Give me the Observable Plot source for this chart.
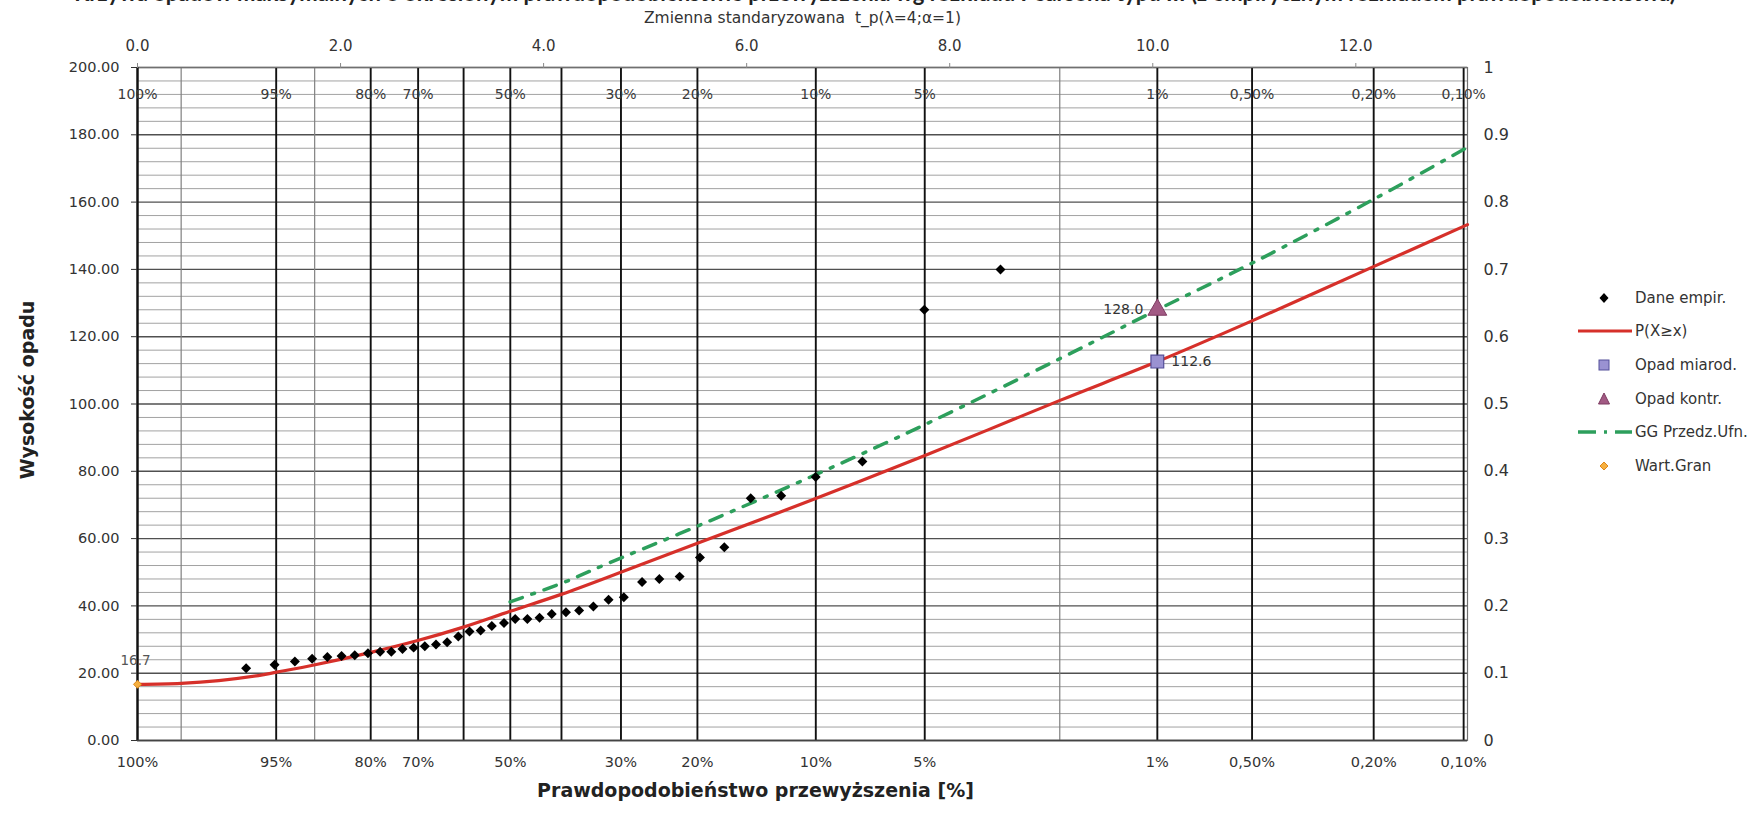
<!DOCTYPE html>
<html>
<head>
<meta charset="utf-8">
<script src="https://cdn.jsdelivr.net/npm/d3@7"></script>
<script src="https://cdn.jsdelivr.net/npm/@observablehq/plot@0.6"></script>
<style>
  html, body { margin: 0; padding: 0; background: #fff; }
  #wrap { position: relative; width: 1750px; height: 814px; overflow: hidden; font-family: "DejaVu Sans", sans-serif; }
  #title { position: absolute; left: 0; top: -18px; width: 1750px; text-align: center; white-space: nowrap;
           font: bold 22px Lato, sans-serif; line-height: 22px; color: #222; z-index: 2; }
  #ytitle { position: absolute; left: 27px; top: 390px; transform: translate(-50%, -50%) rotate(-90deg);
            white-space: nowrap; font: bold 19px "DejaVu Sans", sans-serif; color: #222; z-index: 2; }
  #legend { position: absolute; left: 1576px; top: 281px; font: 15px "DejaVu Sans", sans-serif; color: #333; z-index: 2; }
  .row { display: flex; align-items: center; height: 33.6px; }
  .row svg { width: 56px; height: 20px; flex: none; }
  .row span { margin-left: 3px; white-space: nowrap; }
</style>
</head>
<body>
<div id="wrap">
  <div id="title">Krzywa opadów maksymalnych o określonym prawdopodobieństwie przewyższenia wg rozkładu Pearsona typu III (z empirycznym rozkładem prawdopodobieństwa)</div>
  <div id="ytitle">Wysokość opadu</div>
  <div id="chart"></div>
  <div id="legend"></div>
</div>
<script>
// ---- data ----
// x is the standardised variable t_p(λ=4; α=1) (top axis); y = rainfall height [mm]
const topTicks = [0, 2, 4, 6, 8, 10, 12];
const heightTicks = [0, 20, 40, 60, 80, 100, 120, 140, 160, 180, 200];
const minorStep = 4;

// probability grid lines (exceedance %) and their t position
const gridProb = ["100", "99.9", "95", "90", "80", "70", "60", "50", "40", "30", "20", "10", "5", "2", "1", "0.5", "0.2", "0.1"];
const gridT    = [0, 0.43, 1.366, 1.745, 2.297, 2.764, 3.212, 3.672, 4.176, 4.762, 5.515, 6.681, 7.754, 9.084, 10.045, 10.978, 12.176, 13.062];
const gridThin = ["99.9", "90", "2"];
const labelProb = ["100%", "95%", "80%", "70%", "50%", "30%", "20%", "10%", "5%", "1%", "0,50%", "0,20%", "0,10%"];
const labelT    = [0, 1.366, 2.297, 2.764, 3.672, 4.762, 5.515, 6.681, 7.754, 10.045, 10.978, 12.176, 13.062];

// empirical data (Dane empir.)
const empT = [1.07, 1.35, 1.55, 1.72, 1.87, 2.01, 2.14, 2.27, 2.39, 2.50, 2.61, 2.72, 2.83, 2.94, 3.05, 3.16, 3.27, 3.38, 3.49, 3.61,
              3.72, 3.84, 3.96, 4.08, 4.22, 4.35, 4.49, 4.64, 4.79, 4.97, 5.14, 5.34, 5.54, 5.78, 6.04, 6.34, 6.68, 7.14, 7.75, 8.5];
const empH = [21.5, 22.5, 23.5, 24.3, 24.8, 25.1, 25.3, 25.9, 26.4, 26.4, 27.2, 27.6, 28.0, 28.5, 29.2, 30.9, 32.4, 32.7, 34.0, 34.9,
              36.1, 36.1, 36.5, 37.6, 38.1, 38.6, 39.8, 41.8, 42.6, 47.1, 48.0, 48.7, 54.4, 57.4, 72.0, 72.7, 78.3, 82.9, 128.0, 140.0];

// fitted curve P(X≥x)
const fitT = [0, 0.43, 0.8, 1.19, 1.37, 1.75, 2.3, 2.76, 3.21, 3.67, 4.18, 4.76, 5.515, 6.68, 7.75, 9.08, 10.045, 11.0, 12.18, 13.1];
const fitH = [16.7, 17.0, 17.8, 19.3, 20.3, 22.5, 26.2, 29.7, 33.7, 38.4, 43.5, 50.0, 58.6, 71.9, 84.6, 101.0, 112.6, 125.0, 140.9, 153.3];

// upper confidence bound (GG Przedz.Ufn.)
const ciT = [3.67, 4.2, 4.6, 5.515, 6.68, 7.75, 9.08, 10.045, 11.0, 12.18, 13.1];
const ciH = [41.2, 47.0, 52.2, 63.7, 79.0, 93.8, 113.4, 128.0, 142.2, 160.9, 176.3];

// special points
const designT = [10.045], designH = [112.6];   // Opad miarod.
const controlT = [10.045], controlH = [128.0]; // Opad kontr.
const limitT = [0], limitH = [16.7];           // Wart.Gran

// ---- build tables ----
const emp = empT.map((t, i) => ({t, h: empH[i]}));
const fit = fitT.map((t, i) => ({t, h: fitH[i]}));
const ci = ciT.map((t, i) => ({t, h: ciH[i]}));
const design = designT.map((t, i) => ({t, h: designH[i]}));
const control = controlT.map((t, i) => ({t, h: controlH[i]}));
const limit = limitT.map((t, i) => ({t, h: limitH[i]}));
const labelMap = new Map(labelT.map((t, i) => [t, labelProb[i]]));
const topPct = labelT.map((t, i) => ({t, h: 192, s: labelProb[i]}));
const thinT = gridT.filter((t, i) => gridThin.includes(gridProb[i]));
const darkT = gridT.filter((t, i) => !gridThin.includes(gridProb[i]));
const minorY = d3.range(0, 200 + 1e-9, minorStep).filter(v => v % 20 !== 0);

const RED = "#d6302a", GREEN = "#2d9f5c";

const chart = Plot.plot({
  width: 1750,
  height: 814,
  marginLeft: 137,
  marginRight: 283,
  marginTop: 67,
  marginBottom: 74,
  style: {fontFamily: "'DejaVu Sans', sans-serif", fontSize: "14.5px", color: "#333", background: "white", overflow: "visible"},
  x: {domain: [0, 13.1], axis: null},
  y: {domain: [0, 200], axis: null},
  marks: [
    Plot.ruleY(minorY, {stroke: "#a2a2a2", strokeWidth: 1}),
    Plot.ruleY(heightTicks, {stroke: "#505050", strokeWidth: 1.4}),
    Plot.ruleX(thinT, {stroke: "#808080", strokeWidth: 1.2}),
    Plot.ruleX(darkT, {stroke: "#111", strokeWidth: 1.9}),
    Plot.frame({stroke: "#707070", strokeWidth: 1.2}),
    Plot.ruleX([0], {stroke: "#111", strokeWidth: 2}),
    Plot.ruleY([0], {stroke: "#444", strokeWidth: 1.6}),
    Plot.text(topPct, {x: "t", y: "h", text: "s", fontSize: 14, fill: "#3a3a3a"}),
    Plot.line(ci, {x: "t", y: "h", stroke: GREEN, strokeWidth: 3.5, strokeDasharray: "13,10,3,10", curve: "catmull-rom"}),
    Plot.line(fit, {x: "t", y: "h", stroke: RED, strokeWidth: 3.2, curve: "catmull-rom"}),
    Plot.dot(emp, {x: "t", y: "h", symbol: "diamond2", r: 4.5, fill: "#000", stroke: "none"}),
    Plot.dot(design, {x: "t", y: "h", symbol: "square", r: 7.2, fill: "#9a92d2", stroke: "#55509a", strokeWidth: 1.2}),
    Plot.dot(control, {x: "t", y: "h", symbol: "triangle", r: 7, fill: "#a25a84", stroke: "#7d3a60", strokeWidth: 1}),
    Plot.dot(limit, {x: "t", y: "h", symbol: "diamond2", r: 3.6, fill: "#f6b040", stroke: "#e0881a", strokeWidth: 1}),
    Plot.text(control, {x: "t", y: "h", text: d => d.h.toFixed(1), dx: -14, textAnchor: "end", fontSize: 14, fill: "#333"}),
    Plot.text(design, {x: "t", y: "h", text: d => d.h.toFixed(1), dx: 14, textAnchor: "start", fontSize: 14, fill: "#333"}),
    Plot.text(limit, {x: "t", y: "h", text: d => d.h.toFixed(1), dx: -17, dy: -24, textAnchor: "start", fontSize: 13.5, fill: "#555"}),
    Plot.axisX({anchor: "top", ticks: topTicks, tickFormat: d => d.toFixed(1), tickSize: 5, tickPadding: 12, label: null, stroke: "#888", fontSize: 15}),
    Plot.axisX({anchor: "bottom", ticks: labelT, tickFormat: d => labelMap.get(d), tickSize: 0, tickPadding: 16, label: null}),
    Plot.axisY({anchor: "left", ticks: heightTicks, tickFormat: d => d.toFixed(2), tickSize: 6, tickPadding: 12, label: null}),
    Plot.axisY({anchor: "right", ticks: heightTicks, tickFormat: d => String(+(d / 200).toFixed(1)), tickSize: 0, tickPadding: 16, label: null, fontSize: 16}),
    Plot.text(["Zmienna standaryzowana\u00a0\u00a0t_p(λ=4;α=1)"], {frameAnchor: "top", dy: -56, text: d => d, fontSize: 15.5, fill: "#333"}),
    Plot.text(["Prawdopodobieństwo przewyższenia [%]"], {frameAnchor: "bottom", dx: -47, dy: 56, text: d => d, fontSize: 19, fontWeight: "bold", fill: "#222"})
  ]
});
document.getElementById("chart").appendChild(chart);

// ---- legend ----
const legendItems = [
  {label: "Dane empir.", sym: `<path d="M28,5 L32.5,10 L28,15 L23.5,10 Z" fill="#000"/>`},
  {label: "P(X≥x)", sym: `<line x1="2" y1="10" x2="56" y2="10" stroke="${RED}" stroke-width="3"/>`},
  {label: "Opad miarod.", sym: `<rect x="23" y="5" width="10" height="10" fill="#9a92d2" stroke="#55509a"/>`},
  {label: "Opad kontr.", sym: `<path d="M28,4 L33.5,15 L22.5,15 Z" fill="#a25a84" stroke="#7d3a60"/>`},
  {label: "GG Przedz.Ufn.", sym: `<line x1="2" y1="10" x2="56" y2="10" stroke="${GREEN}" stroke-width="3.5" stroke-dasharray="18,8,3,8"/>`},
  {label: "Wart.Gran", sym: `<path d="M28,6 L32,10 L28,14 L24,10 Z" fill="#f6b040" stroke="#e0881a"/>`}
];
document.getElementById("legend").innerHTML = legendItems.map(d =>
  `<div class="row"><svg viewBox="0 0 56 20">${d.sym}</svg><span>${d.label}</span></div>`).join("");
</script>
</body>
</html>
